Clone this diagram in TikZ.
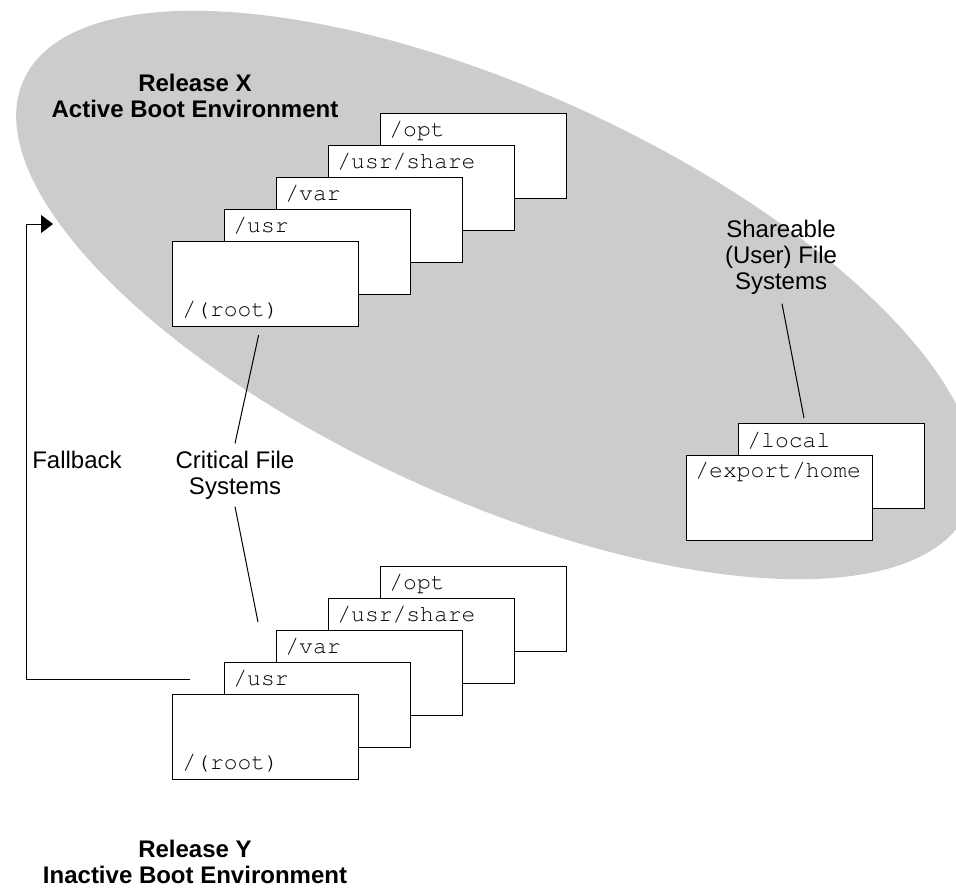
\documentclass[tikz,border=0pt]{standalone}
\usepackage[T1]{fontenc}
\usepackage{fontspec}
\setmainfont{Liberation Sans}
\newcommand\fscour{\fontencoding{T1}\fontfamily{pcr}\fontseries{m}\fontshape{n}\selectfont}
\usetikzlibrary{arrows.meta}

\tikzset{
  fsbox/.style={draw=black, fill=white, line width=0.6pt, minimum width=93pt,
    minimum height=42.5pt, inner sep=0pt, anchor=north west},
  fsname/.style={anchor=base west, inner sep=0pt, font=\fscour\fontsize{11.5}{13}\selectfont},
  envtitle/.style={align=center, inner sep=0pt, font=\bfseries\fontsize{12}{13}\selectfont},
  note/.style={align=center, inner sep=0pt, font=\fontsize{12}{13}\selectfont},
  conn/.style={draw=black, line width=0.5pt},
}

\begin{document}
\begin{tikzpicture}[x=0.5pt,y=-0.5pt]
\useasboundingbox (0,0) rectangle (956,890);

% grey area of the active environment
\begin{scope}
\clip (0,0) rectangle (956,890);
\fill [black!20, rotate around={-24.5:(496,295)}] (496,295) ellipse [x radius=259.5pt, y radius=102pt];
\end{scope}

\node [envtitle] (relx) at (195,96) {Release X\\Active Boot Environment};
\node [envtitle] (rely) at (195,862) {Release Y\\Inactive Boot Environment};

% release X stack
\node [fsbox] (xopt) at (380,113) {};
\node [fsbox] (xshare) at (328,145) {};
\node [fsbox] (xvar) at (276,177) {};
\node [fsbox] (xusr) at (224,209) {};
\node [fsbox] (xroot) at (172,241) {};
\node [fsname] (xoptname) at ([shift={(9,23)}]xopt.north west) {/opt};
\node [fsname] (xsharename) at ([shift={(9,23)}]xshare.north west) {/usr/share};
\node [fsname] (xvarname) at ([shift={(9,23)}]xvar.north west) {/var};
\node [fsname] (xusrname) at ([shift={(9,23)}]xusr.north west) {/usr};
\node [fsname] (xrootname) at ([shift={(10,-11)}]xroot.south west) {/(root)};

% release Y stack
\node [fsbox] (yopt) at (380,566) {};
\node [fsbox] (yshare) at (328,598) {};
\node [fsbox] (yvar) at (276,630) {};
\node [fsbox] (yusr) at (224,662) {};
\node [fsbox] (yroot) at (172,694) {};
\node [fsname] (yoptname) at ([shift={(9,23)}]yopt.north west) {/opt};
\node [fsname] (ysharename) at ([shift={(9,23)}]yshare.north west) {/usr/share};
\node [fsname] (yvarname) at ([shift={(9,23)}]yvar.north west) {/var};
\node [fsname] (yusrname) at ([shift={(9,23)}]yusr.north west) {/usr};
\node [fsname] (yrootname) at ([shift={(10,-11)}]yroot.south west) {/(root)};

% shareable file systems
\node [fsbox] (local) at (738,423) {};
\node [fsbox] (exphome) at (686,455) {};
\node [fsname] (localname) at ([shift={(9,24)}]local.north west) {/local};
\node [fsname] (exphomename) at ([shift={(9,22)}]exphome.north west) {/export/home};

\node [note] (shared) at (781,257) {Shareable\\(User) File\\Systems};
\node [note] (crit) at (235,475) {Critical File\\Systems};
\node [note] (fbtext) at (77,460) {Fallback};

\draw [conn] ([shift={(1,9)}]shared.south) -- ([shift={(66,-5)}]local.north west);
\draw [conn] ([shift={(0,-7)}]crit.north) -- ([shift={(-7,8)}]xroot.south);
\coordinate (critend) at (258,622);
\draw [conn] ([shift={(0,7)}]crit.south) -- (critend);

% fallback arrow
\coordinate (fbstart) at (190,679);
\coordinate (fbend) at (53,224);
\draw [conn, -{Triangle[length=6pt,width=9pt]}] (fbstart) -- (26,679) -- (26,224) -- (fbend);

\end{tikzpicture}
\end{document}
